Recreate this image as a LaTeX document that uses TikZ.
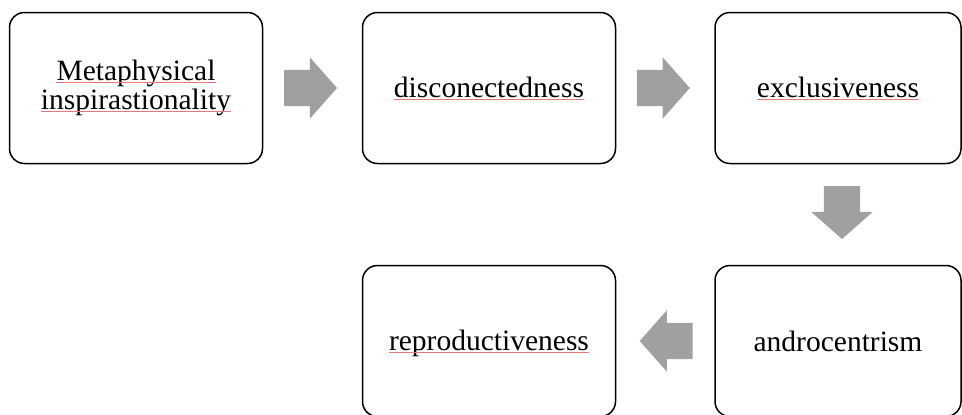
\documentclass[tikz,border=0pt]{standalone}
\usepackage{fontspec}
\setmainfont{Liberation Serif}
\usetikzlibrary{shapes.arrows}
\tikzset{>=stealth}

\begin{document}
\begin{tikzpicture}[x=1pt,y=-1pt,
  box/.style={draw, line width=1.5pt, rounded corners=15pt, minimum width=253pt,
    minimum height=151pt, inner sep=0pt},
  word/.style={anchor=base, inner sep=0pt, text height=20pt, text depth=5pt,
    font=\fontsize{29.5}{26}\selectfont},
  spell/.style={draw=spellred, line width=0.8pt},
  blockarrow/.style={single arrow, draw=none, fill=arrowgray, inner xsep=0pt,
    inner ysep=18pt, minimum height=53pt, single arrow head extend=12.5pt,
    single arrow tip angle=97}]
      \definecolor{arrowgray}{RGB}{158,160,162}
      \definecolor{spellred}{RGB}{232,120,120}
\useasboundingbox (0,0) rectangle (962,415);

% the five boxes, top row left to right, then bottom row right to left
\node[box] (meta) at (136,88) {};
\node[box] (disc) at (489,88) {};
\node[box, minimum width=246pt] (excl) at (838,88) {};
\node[box, minimum width=246pt] (andro) at (838,341) {};
\node[box] (repro) at (489,341) {};

% the words, set on their base lines
\node[word] (meta-1) at (136,80) {Metaphysical};
\node[word] (meta-2) at (136,109) {inspirastionality};
\node[word] (disc-w) at (489,97) {disconectedness};
\node[word] (excl-w) at (838,97) {exclusiveness};
\node[word] (andro-w) at (838,351) {androcentrism};
\node[word] (repro-w) at (489,350) {reproductiveness};

% spell checker marks under all words but one
\foreach \w in {meta-1,meta-2,disc-w,excl-w,repro-w}
	\draw[spell] ([yshift=-2pt]\w.base west) -- ([yshift=-2pt]\w.base east);

% grey block arrows half way between the boxes
\path (meta.east) -- (disc.west) node[midway, blockarrow, xshift=-10pt] (meta-disc) {};
\path (disc.east) -- (excl.west) node[midway, blockarrow, xshift=-10pt] (disc-excl) {};
\path (excl.south) -- (andro.north) node[midway, blockarrow, inner xsep=18pt, inner ysep=0pt, xshift=4pt, yshift=10pt, shape border rotate=270] (excl-andro) {};
\path (andro.west) -- (repro.east) node[midway, blockarrow, xshift=9pt, shape border rotate=180] (andro-repro) {};
\end{tikzpicture}
\end{document}
